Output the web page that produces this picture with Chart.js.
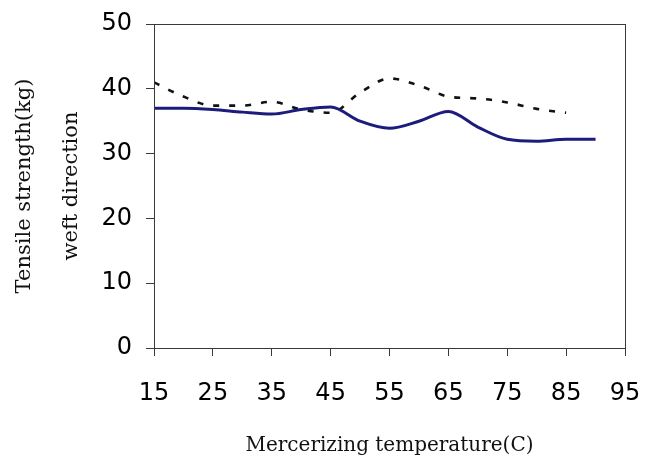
<!DOCTYPE html>
<html lang="en">
  <head>
    <meta charset="UTF-8" />
    <title>Tensile strength vs mercerizing temperature</title>
    <script src="https://cdn.jsdelivr.net/npm/chart.js"></script>
    <style>
      html, body { margin: 0; padding: 0; background: #fff; }
      #wrap { width: 654px; height: 459px; }
    </style>
  </head>
  <body>
    <div id="wrap">
      <canvas id="tensileChart" width="654" height="459"></canvas>
    </div>

    <script>
      // values
      const temperatures = [15, 20, 25, 30, 35, 40, 45, 50, 55, 60, 65, 70, 75, 80, 85, 90];
      const solidSeries = [37, 37, 36.8, 36.4, 36.1, 36.8, 37.2, 35.0, 33.9, 35.0, 36.5, 34.1, 32.2, 31.9, 32.2, 32.2];
      const dashedSeries = [41, 38.8, 37.4, 37.4, 38, 36.8, 36.3, 39.4, 41.6, 40.5, 38.8, 38.5, 37.9, 36.9, 36.3, null];
      const xTicks = [15, 25, 35, 45, 55, 65, 75, 85, 95];
      const yTicks = [0, 10, 20, 30, 40, 50];

      const toPoints = (vals) =>
        temperatures.map((t, i) => ({ x: t, y: vals[i] })).filter((p) => p.y !== null);

      // box around the plot area (top and right edges)
      const frame = {
        id: "frame",
        afterDraw(chart) {
          const { ctx, chartArea } = chart;
          ctx.save();
          ctx.strokeStyle = "#3a3a3a";
          ctx.lineWidth = 1;
          ctx.strokeRect(chartArea.left + 0.5, chartArea.top + 0.5,
            chartArea.right - chartArea.left, chartArea.bottom - chartArea.top);
          ctx.restore();
        },
      };

      const tickFont = { family: "DejaVu Sans", size: 24 };

      const ctx = document.getElementById("tensileChart").getContext("2d");
      new Chart(ctx, {
        type: "line",
        data: {
          datasets: [
            {
              label: "solid",
              data: toPoints(solidSeries),
              borderColor: "#1c1c7c",
              borderWidth: 3,
              pointRadius: 0,
              cubicInterpolationMode: "monotone",
              fill: false,
            },
            {
              label: "dashed",
              data: toPoints(dashedSeries),
              borderColor: "#111",
              borderWidth: 2.6,
              borderDash: [6, 10],
              pointRadius: 0,
              cubicInterpolationMode: "monotone",
              fill: false,
            },
          ],
        },
        options: {
          responsive: false,
          animation: false,
          layout: { padding: { top: 24, right: 29, left: 0, bottom: 0 } },
          plugins: {
            legend: { display: false },
            tooltip: { enabled: false },
          },
          scales: {
            x: {
              type: "linear",
              min: 15,
              max: 95,
              afterBuildTicks: (scale) => {
                scale.ticks = xTicks.map((v) => ({ value: v }));
              },
              afterFit: (scale) => {
                scale.height = 111;
                scale.paddingLeft = 0;
                scale.paddingRight = 0;
              },
              ticks: { font: tickFont, color: "#000", padding: 23, maxRotation: 0 },
              grid: { drawOnChartArea: false, tickLength: 8, color: "#3a3a3a" },
              border: { color: "#3a3a3a" },
              title: {
                display: true,
                text: "Mercerizing temperature(C)",
                font: { family: "DejaVu Serif", size: 20 },
                color: "#111",
                padding: { top: 0, bottom: 1 },
              },
            },
            y: {
              min: 0,
              max: 50,
              afterBuildTicks: (scale) => {
                scale.ticks = yTicks.map((v) => ({ value: v }));
              },
              afterFit: (scale) => {
                scale.width = 154;
                scale.paddingTop = 0;
                scale.paddingBottom = 0;
              },
              ticks: { font: tickFont, color: "#000", padding: 14 },
              grid: { drawOnChartArea: false, tickLength: 8, color: "#3a3a3a" },
              border: { color: "#3a3a3a" },
              title: {
                display: true,
                text: ["Tensile strength(kg)", "weft direction"],
                font: { family: "DejaVu Serif", size: 21, lineHeight: 2.24 },
                color: "#111",
                padding: { top: 1, bottom: 0 },
              },
            },
          },
        },
        plugins: [frame],
      });
    </script>
  </body>
</html>
